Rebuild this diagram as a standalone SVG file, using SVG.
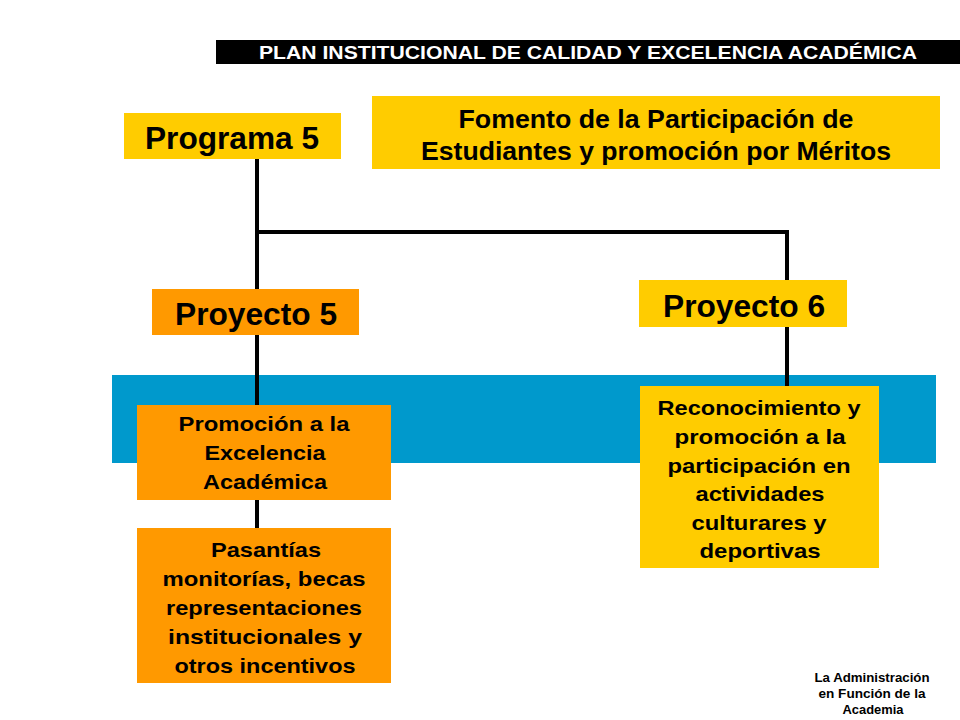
<svg xmlns="http://www.w3.org/2000/svg" width="960" height="720" viewBox="0 0 960 720">
<style>
text{font-family:"Liberation Sans",Arial,sans-serif;font-weight:bold;text-anchor:middle;fill:#000}
.y{fill:#FFCC00}
.o{fill:#FF9900}
.big{font-size:31px}
.mid{font-size:25px}
.sm{font-size:21px}
.con{stroke:#000;stroke-width:4;fill:none}
.ft{font-size:12px}
</style>
<rect x="0" y="0" width="960" height="720" fill="#fff"/>
<g id="header">
<rect x="216" y="40" width="744" height="24" fill="#000"/>
<text x="588" y="59" style="fill:#fff;font-size:18px" textLength="658" lengthAdjust="spacingAndGlyphs">PLAN INSTITUCIONAL DE CALIDAD Y EXCELENCIA ACADÉMICA</text>
</g>
<g id="band"><rect x="112" y="375" width="824" height="88" fill="#0099CC"/></g>
<g id="connectors">
<path class="con" d="M257 159 V405"/>
<path class="con" d="M255 232 H787 V280"/>
<path class="con" d="M787 327 V386"/>
<path class="con" d="M257 500 V528"/>
</g>
<g id="programa5">
<rect class="y" x="124" y="113" width="217" height="46"/>
<text class="big" x="232" y="149" textLength="174" lengthAdjust="spacingAndGlyphs">Programa 5</text>
</g>
<g id="fomento">
<rect class="y" x="372" y="96" width="568" height="73"/>
<text class="mid" x="656" y="128" textLength="395" lengthAdjust="spacingAndGlyphs">Fomento de la Participación de</text>
<text class="mid" x="656" y="160" textLength="470" lengthAdjust="spacingAndGlyphs">Estudiantes y promoción por Méritos</text>
</g>
<g id="proyecto5">
<rect class="o" x="152" y="289" width="207" height="46"/>
<text class="big" x="256" y="325" textLength="162" lengthAdjust="spacingAndGlyphs">Proyecto 5</text>
</g>
<g id="proyecto6">
<rect class="y" x="639" y="280" width="208" height="47"/>
<text class="big" x="744" y="317" textLength="162" lengthAdjust="spacingAndGlyphs">Proyecto 6</text>
</g>
<g id="promocion">
<rect class="o" x="137" y="405" width="254" height="95"/>
<text class="sm" x="264" y="431" textLength="171" lengthAdjust="spacingAndGlyphs">Promoción a la</text>
<text class="sm" x="265" y="460" textLength="121" lengthAdjust="spacingAndGlyphs">Excelencia</text>
<text class="sm" x="265" y="489" textLength="124" lengthAdjust="spacingAndGlyphs">Académica</text>
</g>
<g id="pasantias">
<rect class="o" x="137" y="528" width="254" height="155"/>
<text class="sm" x="266" y="557" textLength="110" lengthAdjust="spacingAndGlyphs">Pasantías</text>
<text class="sm" x="264" y="586" textLength="203" lengthAdjust="spacingAndGlyphs">monitorías, becas</text>
<text class="sm" x="264" y="615" textLength="196" lengthAdjust="spacingAndGlyphs">representaciones</text>
<text class="sm" x="265" y="644" textLength="194" lengthAdjust="spacingAndGlyphs">institucionales  y</text>
<text class="sm" x="265" y="673" textLength="181" lengthAdjust="spacingAndGlyphs">otros incentivos</text>
</g>
<g id="reconocimiento">
<rect class="y" x="640" y="386" width="239" height="182"/>
<text class="sm" x="759" y="415" textLength="203" lengthAdjust="spacingAndGlyphs">Reconocimiento y</text>
<text class="sm" x="760" y="444" textLength="171" lengthAdjust="spacingAndGlyphs">promoción a la</text>
<text class="sm" x="759" y="473" textLength="183" lengthAdjust="spacingAndGlyphs">participación en</text>
<text class="sm" x="760" y="501" textLength="129" lengthAdjust="spacingAndGlyphs">actividades</text>
<text class="sm" x="759" y="530" textLength="135" lengthAdjust="spacingAndGlyphs">culturares y</text>
<text class="sm" x="760" y="558" textLength="121" lengthAdjust="spacingAndGlyphs">deportivas</text>
</g>
<g id="footer">
<text class="ft" x="872" y="682" textLength="115" lengthAdjust="spacingAndGlyphs">La Administración</text>
<text class="ft" x="872" y="698" textLength="107" lengthAdjust="spacingAndGlyphs">en Función de  la</text>
<text class="ft" x="873" y="714" textLength="61" lengthAdjust="spacingAndGlyphs">Academia</text>
</g>
</svg>
